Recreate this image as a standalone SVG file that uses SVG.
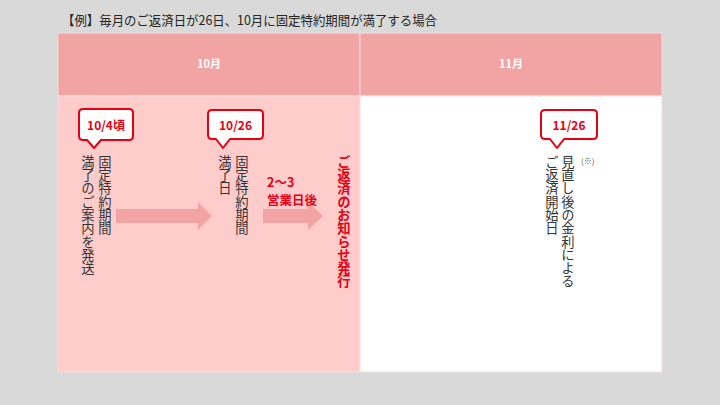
<svg xmlns="http://www.w3.org/2000/svg" width="720" height="405" viewBox="0 0 720 405">
<defs>
<style>
.jp{font-family:"Noto Sans CJK JP","Noto Sans",sans-serif;}
.v{writing-mode:vertical-rl;font-size:13.3px;fill:#333;}
.vr{writing-mode:vertical-rl;font-size:13.3px;fill:#e60012;font-weight:bold;}
.hd{font-size:11px;fill:#fff;font-weight:bold;text-anchor:middle;}
.co{fill:#fff;stroke:#e60012;stroke-width:2;stroke-linejoin:round;}
.ct{font-size:12px;fill:#e60012;font-weight:bold;text-anchor:middle;}
.arr{fill:#f2a3a3;}
.lb{font-size:12.5px;font-weight:bold;fill:#e60012;}
</style>
</defs>
<rect x="0" y="0" width="720" height="405" fill="#d9d9d9"/>
<text class="jp" x="62" y="25" font-size="13" fill="#262626" textLength="375" lengthAdjust="spacingAndGlyphs">【例】毎月のご返済日が26日、10月に固定特約期間が満了する場合</text>
<g id="table">
<rect x="58" y="33" width="302" height="63" fill="#f2a3a3" stroke="#f4dede" stroke-width="1"/>
<rect x="360" y="33" width="302" height="63" fill="#f2a3a3" stroke="#f4dede" stroke-width="1"/>
<rect x="58" y="96" width="302" height="276" fill="#ffcccc" stroke="#f4dede" stroke-width="1"/>
<rect x="360" y="96" width="302" height="276" fill="#ffffff" stroke="#f4dede" stroke-width="1"/>
<text class="jp hd" x="209" y="68">10月</text>
<text class="jp hd" x="511" y="68">11月</text>
</g>
<g id="connectors">
<polygon class="arr" points="116,209 198,209 198,202 212,216 198,230 198,223 116,223"/>
<polygon class="arr" points="263,209 308,209 308,202 323,216 308,230 308,223 263,223"/>
</g>
<g id="node-1004">
<path class="co" d="M83,109 H129 Q133,109 133,113 V136 Q133,140 129,140 H101 L94,148 L87,140 H83 Q79,140 79,136 V113 Q79,109 83,109 Z"/>
<text class="jp ct" x="106" y="130">10/4頃</text>
<text class="jp v" x="105" y="155">固定特約期間</text>
<text class="jp v" x="88" y="155">満了のご案内を発送</text>
</g>
<g id="node-1026">
<path class="co" d="M212,110 H259 Q263,110 263,114 V135 Q263,139 259,139 H230 L223,148 L216,139 H212 Q208,139 208,135 V114 Q208,110 212,110 Z"/>
<text class="jp ct" x="235.5" y="130">10/26</text>
<text class="jp v" x="242" y="155">固定特約期間</text>
<text class="jp v" x="225" y="155">満了日</text>
</g>
<g id="label-days">
<text class="jp lb" x="267" y="187">2〜3</text>
<text class="jp lb" x="267" y="205">営業日後</text>
</g>
<g id="node-notice">
<text class="jp vr" x="344" y="155">ご返済のお知らせ発行</text>
</g>
<g id="node-1126">
<path class="co" d="M545,110 H593 Q597,110 597,114 V135 Q597,139 593,139 H564 L557,148 L550,139 H545 Q541,139 541,135 V114 Q541,110 545,110 Z"/>
<text class="jp ct" x="569" y="130">11/26</text>
<text class="jp v" x="568" y="155">見直し後の金利による</text>
<text class="jp v" x="552" y="155">ご返済開始日</text>
<text class="jp" x="581" y="164" font-size="8" fill="#555">(※)</text>
</g>
</svg>
